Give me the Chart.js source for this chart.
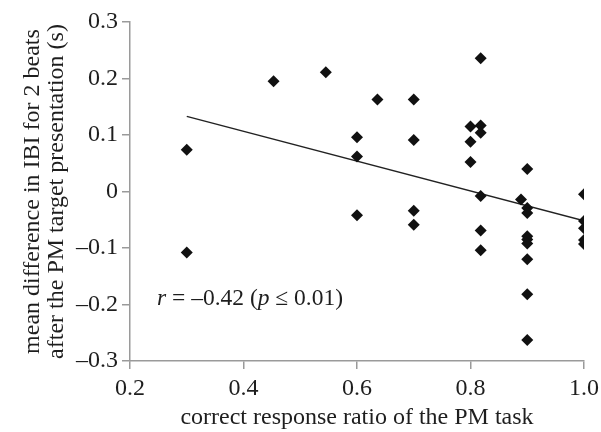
<!DOCTYPE html>
<html>
<head>
<meta charset="utf-8">
<script src="https://cdn.jsdelivr.net/npm/chart.js@4.4.0/dist/chart.umd.min.js"></script>
<style>
  body { margin: 0; background: #fff; }
  #wrap { width: 601px; height: 432px; }
</style>
</head>
<body>
<div id="wrap"><canvas id="myChart"></canvas></div>
<script>
// correct response ratio (x) and IBI difference (y)
var ratioX = [0.3, 0.3, 0.453, 0.545, 0.6, 0.6, 0.6, 0.636, 0.7, 0.7, 0.7, 0.7,
              0.8, 0.8, 0.8, 0.818, 0.818, 0.818, 0.818, 0.818, 0.818,
              0.9, 0.889, 0.9, 0.9, 0.9, 0.9, 0.9, 0.9, 0.9, 0.9,
              1.0, 1.0, 1.0, 1.0, 1.0];
var ibiDiff = [0.074, -0.108, 0.195, 0.211, 0.096, 0.062, -0.042, 0.163, 0.163, 0.091, -0.034, -0.059,
               0.115, 0.088, 0.052, 0.236, 0.117, 0.104, -0.008, -0.069, -0.104,
               0.040, -0.014, -0.029, -0.038, -0.079, -0.085, -0.092, -0.120, -0.182, -0.263,
               -0.005, -0.052, -0.065, -0.086, -0.093];
// fitted line end points
var fitX = [0.3, 1.0];
var fitY = [0.133, -0.052];

var xTicks = [0.2, 0.4, 0.6, 0.8, 1.0];
var yTicks = [-0.3, -0.2, -0.1, 0, 0.1, 0.2, 0.3];

var points = ratioX.map(function (x, i) { return {x: x, y: ibiDiff[i]}; });
var fitLine = fitX.map(function (x, i) { return {x: x, y: fitY[i]}; });

var serif = "'Liberation Serif', 'DejaVu Serif', serif";
var axisGrey = '#9a9a9a';
var textCol = '#1e1e1e';

function fmt(v) {
    if (Math.abs(v) < 1e-9) return '0';
    var s = Math.abs(v).toFixed(1);
    return v < 0 ? '\u2013' + s : s;
}

// r / p label inside the plot
var noteText = {
    id: 'noteText',
    afterDraw: function (chart) {
        var ctx = chart.ctx;
        var a = chart.chartArea;
        var x = a.left + 27, y = 305;
        var parts = [
            ['italic', 'r'], ['normal', ' = \u20130.42 ('], ['italic', 'p'], ['normal', ' \u2264 0.01)']
        ];
        ctx.save();
        ctx.fillStyle = textCol;
        ctx.textBaseline = 'alphabetic';
        parts.forEach(function (p) {
            ctx.font = p[0] + ' 23.5px ' + serif;
            ctx.fillText(p[1], x, y);
            x += ctx.measureText(p[1]).width;
        });
        ctx.restore();
    }
};

var ctx = document.getElementById('myChart').getContext('2d');
var myChart = new Chart(ctx, {
    type: 'scatter',
    data: {
        datasets: [{
            data: points,
            pointStyle: 'rectRot',
            pointRadius: 6,
            backgroundColor: '#111',
            borderColor: '#111',
            borderWidth: 0
        }, {
            type: 'line',
            data: fitLine,
            borderColor: '#222',
            borderWidth: 1.5,
            pointRadius: 0,
            fill: false
        }]
    },
    options: {
        responsive: true,
        maintainAspectRatio: false,
        animation: false,
        layout: { padding: { top: 22, right: 17, left: 0, bottom: 0 } },
        plugins: { legend: { display: false }, tooltip: { enabled: false } },
        scales: {
            x: {
                type: 'linear',
                min: 0.2, max: 1.0,
                afterBuildTicks: function (s) { s.ticks = xTicks.map(function (v) { return {value: v}; }); },
                afterFit: function (s) { s.height = 71; s.paddingLeft = 0; s.paddingRight = 0; },
                border: { color: axisGrey, width: 1.5 },
                grid: { drawOnChartArea: false, drawTicks: true, tickLength: 8, color: axisGrey, lineWidth: 1.5 },
                ticks: {
                    color: textCol, padding: 5, maxRotation: 0,
                    font: { family: serif, size: 24 },
                    callback: function (v) { return fmt(v); }
                },
                title: {
                    display: true, text: 'correct response ratio of the PM task',
                    color: textCol, font: { family: serif, size: 24 }, padding: { top: 2, bottom: 0 }
                }
            },
            y: {
                min: -0.3, max: 0.3,
                afterBuildTicks: function (s) { s.ticks = yTicks.map(function (v) { return {value: v}; }); },
                afterFit: function (s) { s.width = 130; s.paddingTop = 0; s.paddingBottom = 0; },
                border: { color: axisGrey, width: 1.5 },
                grid: { drawOnChartArea: false, drawTicks: true, tickLength: 8, color: axisGrey, lineWidth: 1.5 },
                ticks: {
                    color: textCol, padding: 4,
                    font: { family: serif, size: 24 },
                    callback: function (v) { return fmt(v); }
                },
                title: {
                    display: true,
                    text: ['mean difference in IBI for 2 beats', 'after the PM target presentation (s)'],
                    color: textCol, font: { family: serif, size: 24, lineHeight: 1.0 }, padding: { top: 21, bottom: 0 }
                }
            }
        }
    },
    plugins: [noteText]
});
</script>
</body>
</html>
